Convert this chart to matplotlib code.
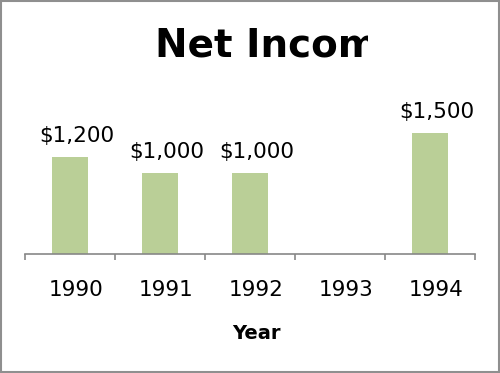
import numpy as np
import matplotlib
matplotlib.use("Agg")
import matplotlib.pyplot as plt
import matplotlib.transforms as mtransforms
from matplotlib.patches import Rectangle

# dados
years = ["1990", "1991", "1992", "1993", "1994"]
net_income = [1200, 1000, 1000, np.nan, 1500]
labels = ["$1,200", "$1,000", "$1,000", "", "$1,500"]

BAR_COLOR = "#BACF97"
GRAY = "#878787"

fig = plt.figure(figsize=(5, 3.73), dpi=100)
ax = fig.add_axes([0.05, 0.319, 0.90, 0.433])

x = np.arange(len(years))
vals = np.nan_to_num(net_income)
ax.bar(x, vals, width=0.4, color=BAR_COLOR)

# rotulos de valor (um pouco deslocados pra direita, como no original)
for xi, v, lab in zip(x, net_income, labels):
    if np.isnan(v):
        continue
    ax.annotate(lab, (xi, v), xytext=(5, 11), textcoords="offset points",
                ha="center", va="baseline", fontsize=15.5)

ax.set_xlim(-0.5, len(years) - 0.5)
ax.set_ylim(0, 2000)
ax.set_yticks([])
for s in ["left", "right", "top"]:
    ax.spines[s].set_visible(False)
ax.spines["bottom"].set_color(GRAY)
ax.spines["bottom"].set_linewidth(1.2)

ax.set_xticks(x)
ax.set_xticklabels(years, fontsize=15.5)
ax.tick_params(axis="x", which="major", length=0, pad=18.5)
ax.set_xticks(np.arange(-0.5, len(years)), minor=True)
ax.tick_params(axis="x", which="minor", length=4.5, width=1.2, color=GRAY, direction="out")
shift = mtransforms.ScaledTranslation(6 / 100, 0, fig.dpi_scale_trans)
for lab in ax.get_xticklabels():
    lab.set_transform(lab.get_transform() + shift)

fig.text(256 / 500, 1 - 339 / 373, "Year", ha="center", va="baseline",
         fontsize=14, weight="bold")

# titulo cortado como no original
t = fig.text(155 / 500, 1 - 56.7 / 373, "Net Income", ha="left", va="baseline",
             fontsize=28, weight="bold")
clip = Rectangle((0, 0), 368 / 500, 1, transform=fig.transFigure)
t.set_clip_path(clip)

# borda
fig.patches.append(Rectangle((0.002, 0.003), 0.996, 0.994, transform=fig.transFigure,
                             fill=False, edgecolor="#8f8f8f", linewidth=1.5))

fig.savefig("out.png", dpi=100)
